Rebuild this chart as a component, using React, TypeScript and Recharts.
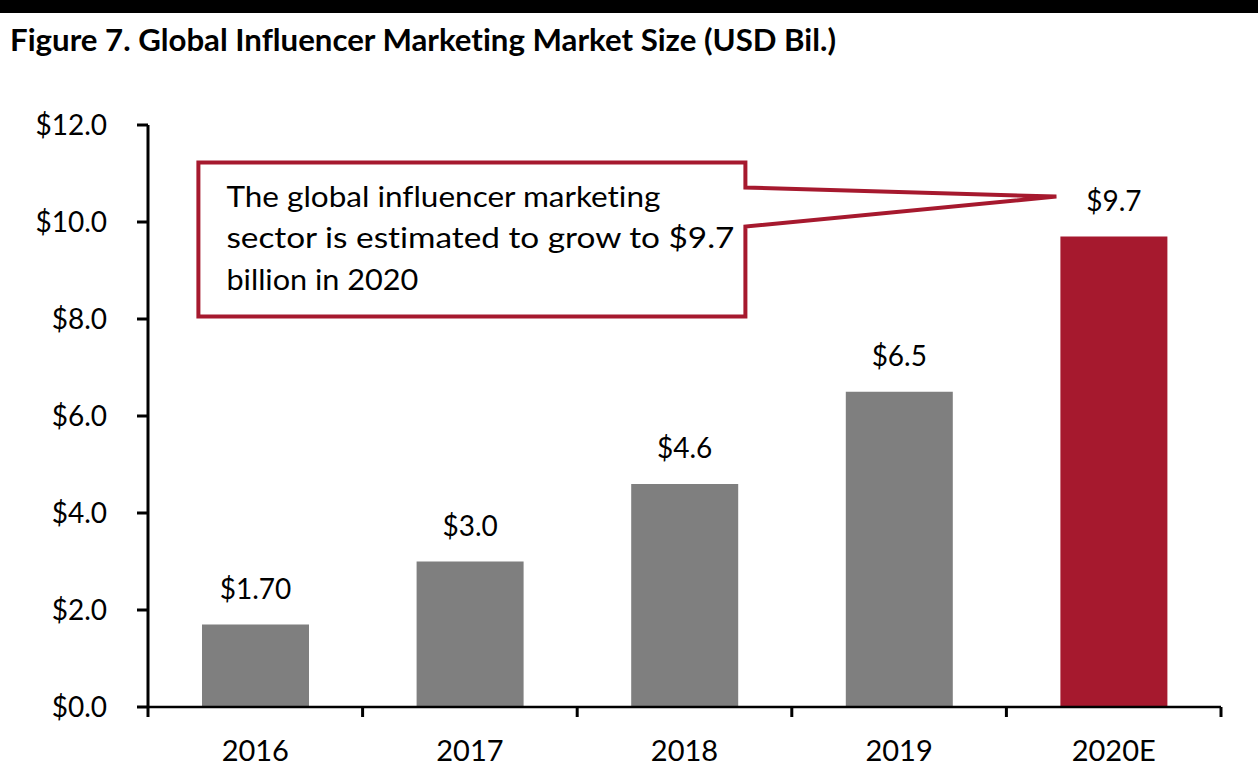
import React from 'react';
import { BarChart, Bar, XAxis, YAxis, LabelList, Cell } from 'recharts';

const title = 'Figure 7. Global Influencer Marketing Market Size (USD Bil.)';
const categories = ['2016', '2017', '2018', '2019', '2020E'];
const values = [1.7, 3.0, 4.6, 6.5, 9.7];
const valueLabels = ['$1.70', '$3.0', '$4.6', '$6.5', '$9.7'];
const yTicks = [0, 2, 4, 6, 8, 10, 12];
const calloutLines = [
  'The global influencer marketing',
  'sector is estimated to grow to $9.7',
  'billion in 2020',
];
const calloutWidths = [434, 508, 192];

const GRAY = '#7F7F7F';
const RED = '#A6192E';
const FONT = 'Lato, "Open Sans", sans-serif';
const NOLIG = { fontVariantLigatures: 'none' as const };

const W = 1258;
const H = 782;
const MARGIN = { top: 125, right: 37, bottom: 0, left: 0 };
const Y_AXIS_W = 148;
const X_AXIS_H = 75;
const PLOT_W = W - MARGIN.left - MARGIN.right - Y_AXIS_W;

const data = categories.map((name, i) => ({
  name,
  value: values[i],
  label: valueLabels[i],
  color: i === categories.length - 1 ? RED : GRAY,
}));

const XTick = (props: any) => {
  const { x, y, payload, index } = props;
  const band = PLOT_W / categories.length;
  const lines = [x - band / 2];
  if (index === categories.length - 1) lines.push(x + band / 2);
  return (
    <g>
      {lines.map((lx, i) => (
        <line key={i} x1={lx} x2={lx} y1={y} y2={y + 10} stroke="#000" strokeWidth={3} />
      ))}
      <text x={x} y={y + 54} textAnchor="middle" fontFamily={FONT} fontSize={29} fill="#000" style={NOLIG}>
        {payload.value}
      </text>
    </g>
  );
};

const ValueLabel = (props: any) => {
  const { x, y, width, value } = props;
  return (
    <text x={x + width / 2} y={y - 26} textAnchor="middle" fontFamily={FONT} fontSize={28} fill="#000" style={NOLIG}>
      {value}
    </text>
  );
};

const Callout = (props: any) => {
  const { x, y, index } = props;
  if (index !== categories.length - 1) return null;
  const tipX = x - 4;
  const tipY = y - 40;
  const right = x - 315;
  const left = x - 862;
  const top = y - 74;
  const bottom = y + 80;
  const p1 = y - 49;
  const p2 = y - 10;
  const d = `M${left},${top} L${right},${top} L${right},${p1} L${tipX},${tipY} L${right},${p2} L${right},${bottom} L${left},${bottom} Z`;
  return (
    <g>
      <path d={d} fill="#fff" stroke={RED} strokeWidth={4} strokeLinejoin="miter" />
      {calloutLines.map((t, i) => (
        <text
          key={i}
          x={left + 28}
          y={top + 44 + i * 41.5}
          fontFamily={FONT}
          fontSize={28.5}
          fill="#000"
          style={NOLIG}
          textLength={calloutWidths[i]}
          lengthAdjust="spacingAndGlyphs"
        >
          {t}
        </text>
      ))}
    </g>
  );
};

export default function App() {
  return (
    <div style={{ position: 'absolute', left: 0, top: 0, width: W, height: H, background: '#fff' }}>
      <svg width={W} height={H} style={{ position: 'absolute', left: 0, top: 0 }}>
        <rect x={0} y={0} width={W} height={13} fill="#000" />
        <text
          x={10}
          y={51}
          fontFamily={FONT}
          fontWeight={700}
          fontSize={31}
          fill="#000"
          style={NOLIG}
          textLength={826}
          lengthAdjust="spacingAndGlyphs"
        >
          {title}
        </text>
      </svg>
      <div style={{ position: 'absolute', left: 0, top: 0 }}>
        <BarChart width={W} height={H} data={data} margin={MARGIN}>
          <YAxis
            width={Y_AXIS_W}
            domain={[0, 12]}
            ticks={yTicks}
            interval={0}
            tickFormatter={(v: number) => `$${v.toFixed(1)}`}
            axisLine={{ stroke: '#000', strokeWidth: 3 }}
            tickLine={{ stroke: '#000', strokeWidth: 3 }}
            tickSize={11}
            tickMargin={30}
            tick={{ fontFamily: FONT, fontSize: 28, fill: '#000' }}
          />
          <XAxis
            dataKey="name"
            height={X_AXIS_H}
            interval={0}
            axisLine={{ stroke: '#000', strokeWidth: 2.5 }}
            tickLine={false}
            tickSize={0}
            tickMargin={0}
            tick={<XTick />}
          />
          <Bar dataKey="value" barSize={107} isAnimationActive={false}>
            {data.map((d, i) => (
              <Cell key={i} fill={d.color} />
            ))}
            <LabelList dataKey="label" content={<ValueLabel />} />
            <LabelList dataKey="label" content={<Callout />} />
          </Bar>
        </BarChart>
      </div>
    </div>
  );
}
